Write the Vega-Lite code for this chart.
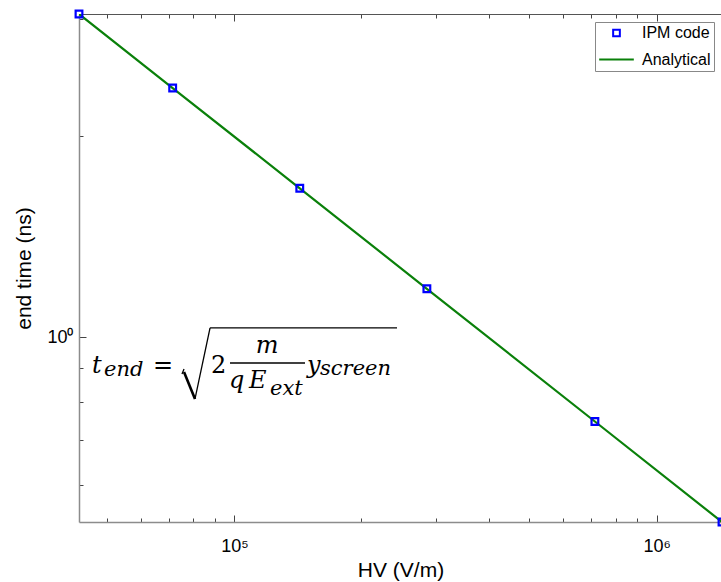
{
  "$schema": "https://vega.github.io/schema/vega-lite/v6.json",
  "width": 643,
  "height": 508,
  "autosize": "none",
  "padding": {"left": 79, "top": 14, "right": 0, "bottom": 60},
  "background": "white",
  "config": {"view": {"stroke": null}, "font": "Liberation Sans"},
  "datasets": {
    "analytical": [
      {"HV": 42857, "t": 3.05, "series": "Analytical"},
      {"HV": 71429, "t": 2.362, "series": "Analytical"},
      {"HV": 142857, "t": 1.671, "series": "Analytical"},
      {"HV": 285714, "t": 1.181, "series": "Analytical"},
      {"HV": 714286, "t": 0.747, "series": "Analytical"},
      {"HV": 1428571, "t": 0.528, "series": "Analytical"}
    ],
    "ipm": [
      {"HV": 42857, "t": 3.05, "series": "IPM code"},
      {"HV": 71429, "t": 2.362, "series": "IPM code"},
      {"HV": 142857, "t": 1.671, "series": "IPM code"},
      {"HV": 285714, "t": 1.181, "series": "IPM code"},
      {"HV": 714286, "t": 0.747, "series": "IPM code"},
      {"HV": 1428571, "t": 0.528, "series": "IPM code"}
    ],
    "one": [{}]
  },
  "resolve": {"axis": {"x": "independent", "y": "independent"}},
  "layer": [
    {
      "data": {"name": "analytical"},
      "mark": {"type": "line", "color": "#0a800a", "strokeWidth": 2.2, "clip": true},
      "encoding": {
        "x": {"field": "HV", "type": "quantitative",
          "scale": {"type": "log", "domain": [42857, 1428571], "nice": false, "zero": false},
          "axis": {"orient": "bottom", "title": "HV (V/m)", "grid": false,
            "values": [50000, 60000, 70000, 80000, 90000, 100000, 200000, 300000, 400000, 500000, 600000, 700000, 800000, 900000, 1000000],
            "labelExpr": "datum.value === 100000 ? '10⁵' : datum.value === 1000000 ? '10⁶' : ''",
            "labelOverlap": false, "labelFlush": false,
            "tickSize": {"condition": {"test": "datum.value === 100000 || datum.value === 1000000", "value": -7}, "value": -4},
            "tickColor": "#444", "tickWidth": 1, "domainColor": "#8c8c8c", "domainWidth": 1.5,
            "labelFont": "Liberation Sans", "labelFontSize": 18, "labelColor": "#000", "labelPadding": 22,
            "titleFont": "Liberation Sans", "titleFontSize": 21, "titleFontWeight": "normal", "titleColor": "#000", "titlePadding": 1}},
        "y": {"field": "t", "type": "quantitative",
          "scale": {"type": "log", "domain": [0.528, 3.05], "nice": false, "zero": false},
          "axis": {"orient": "left", "title": "end time (ns)", "grid": false,
            "values": [0.6, 0.7, 0.8, 0.9, 1, 2, 3],
            "labelExpr": "datum.value === 1 ? '10⁰' : ''",
            "labelOverlap": false, "labelFlush": false,
            "tickSize": {"condition": {"test": "datum.value === 1", "value": -7}, "value": -4},
            "tickColor": "#444", "tickWidth": 1, "domainColor": "#8c8c8c", "domainWidth": 1.5,
            "labelFont": "Liberation Sans", "labelFontSize": 18, "labelColor": "#000", "labelPadding": 13,
            "titleFont": "Liberation Sans", "titleFontSize": 21, "titleFontWeight": "normal", "titleColor": "#000", "titlePadding": 12}},
        "color": {"field": "series", "type": "nominal",
          "scale": {"domain": ["IPM code", "Analytical"], "range": ["#0000ff", "#0a800a"]},
          "legend": {"title": null, "orient": "top-right", "offset": 8, "strokeColor": "#888", "fillColor": "white",
            "padding": 3, "labelFont": "Liberation Sans", "labelFontSize": 16, "labelColor": "#000", "labelOffset": 7,
            "symbolStrokeWidth": 2, "rowPadding": -2}}
      }
    },
    {
      "data": {"name": "ipm"},
      "mark": {"type": "point", "filled": false, "strokeWidth": 2.2, "opacity": 1, "clip": false},
      "encoding": {
        "x": {"field": "HV", "type": "quantitative",
          "axis": {"orient": "top", "title": null, "labels": false, "grid": false,
            "values": [50000, 60000, 70000, 80000, 90000, 100000, 200000, 300000, 400000, 500000, 600000, 700000, 800000, 900000, 1000000],
            "tickSize": {"condition": {"test": "datum.value === 100000 || datum.value === 1000000", "value": -7}, "value": -4},
            "tickColor": "#444", "domainColor": "#555", "domainWidth": 1}},
        "y": {"field": "t", "type": "quantitative", "axis": null},
        "color": {"field": "series", "type": "nominal"},
        "shape": {"field": "series", "type": "nominal",
          "scale": {"domain": ["IPM code", "Analytical"], "range": ["square", "stroke"]}},
        "size": {"field": "series", "type": "nominal",
          "scale": {"domain": ["IPM code", "Analytical"], "range": [45, 1200]}}
      }
    },
    {
      "data": {"name": "one"},
      "mark": {"type": "text", "text": "t", "font": "DejaVu Serif", "fontStyle": "italic", "fontSize": 24, "align": "left", "baseline": "alphabetic"},
      "encoding": {"x": {"datum": 46000, "type": "quantitative", "axis": null}, "y": {"datum": 0.8832, "type": "quantitative", "axis": null}}
    },
    {
      "data": {"name": "one"},
      "mark": {"type": "text", "text": "end", "font": "DejaVu Serif", "fontStyle": "italic", "fontSize": 21, "align": "left", "baseline": "alphabetic"},
      "encoding": {"x": {"datum": 49120, "type": "quantitative", "axis": null}, "y": {"datum": 0.874, "type": "quantitative", "axis": null}}
    },
    {
      "data": {"name": "one"},
      "mark": {"type": "text", "text": "=", "font": "DejaVu Serif", "fontSize": 24, "align": "left", "baseline": "alphabetic"},
      "encoding": {"x": {"datum": 64170, "type": "quantitative", "axis": null}, "y": {"datum": 0.8832, "type": "quantitative", "axis": null}}
    },
    {
      "data": {"name": "one"},
      "mark": {"type": "rule", "color": "#000", "strokeWidth": 1.3},
      "encoding": {"x": {"datum": 75160, "type": "quantitative", "axis": null}, "x2": {"datum": 75990}, "y": {"datum": 0.8802, "type": "quantitative", "axis": null}, "y2": {"datum": 0.8954}}
    },
    {
      "data": {"name": "one"},
      "mark": {"type": "rule", "color": "#000", "strokeWidth": 2.6},
      "encoding": {"x": {"datum": 75990, "type": "quantitative", "axis": null}, "x2": {"datum": 80680}, "y": {"datum": 0.8863, "type": "quantitative", "axis": null}, "y2": {"datum": 0.8075}}
    },
    {
      "data": {"name": "one"},
      "mark": {"type": "rule", "color": "#000", "strokeWidth": 1.3},
      "encoding": {"x": {"datum": 80680, "type": "quantitative", "axis": null}, "x2": {"datum": 87580}, "y": {"datum": 0.8075, "type": "quantitative", "axis": null}, "y2": {"datum": 1.0317}}
    },
    {
      "data": {"name": "one"},
      "mark": {"type": "rule", "color": "#000", "strokeWidth": 1.3},
      "encoding": {"x": {"datum": 87580, "type": "quantitative", "axis": null}, "x2": {"datum": 242800}, "y": {"datum": 1.0317, "type": "quantitative", "axis": null}}
    },
    {
      "data": {"name": "one"},
      "mark": {"type": "text", "text": "2", "font": "DejaVu Serif", "fontSize": 24, "align": "left", "baseline": "alphabetic"},
      "encoding": {"x": {"datum": 88060, "type": "quantitative", "axis": null}, "y": {"datum": 0.8832, "type": "quantitative", "axis": null}}
    },
    {
      "data": {"name": "one"},
      "mark": {"type": "text", "text": "m", "font": "DejaVu Serif", "fontStyle": "italic", "fontSize": 24, "align": "center", "baseline": "alphabetic"},
      "encoding": {"x": {"datum": 119500, "type": "quantitative", "axis": null}, "y": {"datum": 0.9463, "type": "quantitative", "axis": null}}
    },
    {
      "data": {"name": "one"},
      "mark": {"type": "rule", "color": "#000", "strokeWidth": 1.3},
      "encoding": {"x": {"datum": 97650, "type": "quantitative", "axis": null}, "x2": {"datum": 147000}, "y": {"datum": 0.9142, "type": "quantitative", "axis": null}}
    },
    {
      "data": {"name": "one"},
      "mark": {"type": "text", "text": "q", "font": "DejaVu Serif", "fontStyle": "italic", "fontSize": 24, "align": "left", "baseline": "alphabetic"},
      "encoding": {"x": {"datum": 97120, "type": "quantitative", "axis": null}, "y": {"datum": 0.8386, "type": "quantitative", "axis": null}}
    },
    {
      "data": {"name": "one"},
      "mark": {"type": "text", "text": "E", "font": "DejaVu Serif", "fontStyle": "italic", "fontSize": 24, "align": "left", "baseline": "alphabetic"},
      "encoding": {"x": {"datum": 108320, "type": "quantitative", "axis": null}, "y": {"datum": 0.8386, "type": "quantitative", "axis": null}}
    },
    {
      "data": {"name": "one"},
      "mark": {"type": "text", "text": "ext", "font": "DejaVu Serif", "fontStyle": "italic", "fontSize": 21, "align": "left", "baseline": "alphabetic"},
      "encoding": {"x": {"datum": 121470, "type": "quantitative", "axis": null}, "y": {"datum": 0.8187, "type": "quantitative", "axis": null}}
    },
    {
      "data": {"name": "one"},
      "mark": {"type": "text", "text": "y", "font": "DejaVu Serif", "fontStyle": "italic", "fontSize": 24, "align": "left", "baseline": "alphabetic"},
      "encoding": {"x": {"datum": 148600, "type": "quantitative", "axis": null}, "y": {"datum": 0.8832, "type": "quantitative", "axis": null}}
    },
    {
      "data": {"name": "one"},
      "mark": {"type": "text", "text": "screen", "font": "DejaVu Serif", "fontStyle": "italic", "fontSize": 21, "align": "left", "baseline": "alphabetic"},
      "encoding": {"x": {"datum": 159560, "type": "quantitative", "axis": null}, "y": {"datum": 0.877, "type": "quantitative", "axis": null}}
    }
  ]
}
